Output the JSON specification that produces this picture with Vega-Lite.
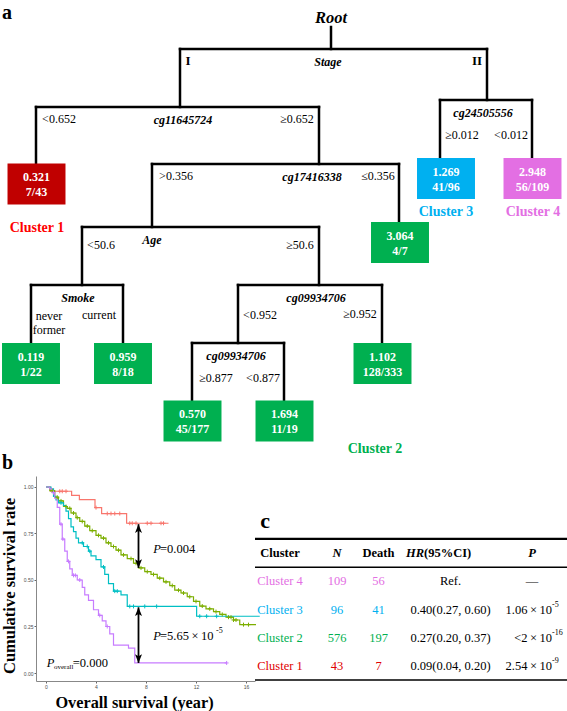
{
"$schema":"https://vega.github.io/schema/vega-lite/v6.json",
"background":"white",
"padding":{"left":0,"top":0,"right":0,"bottom":0},
"spacing":0,
"config":{"view":{"stroke":"transparent"},"font":"Liberation Serif","text":{"font":"Liberation Serif"},"axis":{"grid":false}},
"resolve":{"scale":{"color":"independent"}},
"datasets":{
 "splits":[
  {"var":"Stage","xl":180,"xr":487,"y":48,"yl":106,"yr":99,"lx":328},
  {"var":"cg11645724","xl":36,"xr":319,"y":106,"yl":163,"yr":163,"lx":183},
  {"var":"cg24505556","xl":440,"xr":532,"y":99,"yl":157,"yr":157,"lx":483},
  {"var":"cg17416338","xl":152,"xr":399,"y":163,"yl":226,"yr":221,"lx":312},
  {"var":"Age","xl":82,"xr":319,"y":226,"yl":284,"yr":284,"lx":152},
  {"var":"Smoke","xl":31,"xr":123,"y":284,"yl":342,"yr":342,"lx":78},
  {"var":"cg09934706","xl":238,"xr":382,"y":284,"yl":342,"yr":342,"lx":316},
  {"var":"cg09934706","xl":192,"xr":284,"y":342,"yl":400,"yr":400,"lx":236}
 ],
 "rootNode":[{"label":"Root","x":331,"y":17,"stemTop":26,"stemBottom":48}],
 "stageBranches":[{"text":"I","x":188,"y":60},{"text":"II","x":477,"y":60}],
 "conditions":[
  {"text":"<0.652","x":59,"y":118},
  {"text":"≥0.652","x":297,"y":118},
  {"text":"≥0.012","x":462,"y":134},
  {"text":"<0.012","x":511,"y":134},
  {"text":">0.356","x":176,"y":175},
  {"text":"≤0.356","x":378,"y":175},
  {"text":"<50.6","x":101,"y":244},
  {"text":"≥50.6","x":300,"y":244},
  {"text":["never","former"],"x":49,"y":315},
  {"text":"current","x":99,"y":314},
  {"text":"<0.952","x":260,"y":314},
  {"text":"≥0.952","x":360,"y":313},
  {"text":"≥0.877","x":216,"y":377},
  {"text":"<0.877","x":263,"y":377}
 ],
 "leaves":[
  {"hr":"0.321","frac":"7/43","cluster":"Cluster 1","x":36.5,"y":183},
  {"hr":"1.269","frac":"41/96","cluster":"Cluster 3","x":446,"y":177.5},
  {"hr":"2.948","frac":"56/109","cluster":"Cluster 4","x":532.5,"y":177.5},
  {"hr":"3.064","frac":"4/7","cluster":"Cluster 2","x":400,"y":241.5},
  {"hr":"0.119","frac":"1/22","cluster":"Cluster 2","x":31,"y":362.5},
  {"hr":"0.959","frac":"8/18","cluster":"Cluster 2","x":123,"y":362.5},
  {"hr":"1.102","frac":"128/333","cluster":"Cluster 2","x":382.5,"y":362.5},
  {"hr":"0.570","frac":"45/177","cluster":"Cluster 2","x":192.5,"y":420},
  {"hr":"1.694","frac":"11/19","cluster":"Cluster 2","x":284.5,"y":420}
 ],
 "clusterLabels":[
  {"cluster":"Cluster 1","x":37,"y":227},
  {"cluster":"Cluster 3","x":446,"y":211},
  {"cluster":"Cluster 4","x":533,"y":211},
  {"cluster":"Cluster 2","x":375,"y":448}
 ],
 "panelLabels":[{"label":"a","x":2,"y":18},{"label":"b","x":2,"y":468}],
 "km":[
  {"cluster":"Cluster 1","t":0,"s":1},{"cluster":"Cluster 1","t":0.35,"s":0.977},{"cluster":"Cluster 1","t":2.05,"s":0.955},{"cluster":"Cluster 1","t":2.67,"s":0.932},{"cluster":"Cluster 1","t":3.92,"s":0.889},{"cluster":"Cluster 1","t":4.45,"s":0.857},{"cluster":"Cluster 1","t":6.45,"s":0.805},{"cluster":"Cluster 1","t":9.8,"s":0.805},
  {"cluster":"Cluster 2","t":0,"s":1},{"cluster":"Cluster 2","t":0.3,"s":0.98},{"cluster":"Cluster 2","t":0.7,"s":0.945},{"cluster":"Cluster 2","t":1.0,"s":0.925},{"cluster":"Cluster 2","t":1.4,"s":0.895},{"cluster":"Cluster 2","t":1.7,"s":0.885},{"cluster":"Cluster 2","t":2.0,"s":0.86},{"cluster":"Cluster 2","t":2.4,"s":0.835},{"cluster":"Cluster 2","t":2.7,"s":0.815},{"cluster":"Cluster 2","t":3.1,"s":0.79},{"cluster":"Cluster 2","t":3.5,"s":0.765},{"cluster":"Cluster 2","t":4.0,"s":0.74},{"cluster":"Cluster 2","t":4.4,"s":0.725},{"cluster":"Cluster 2","t":4.8,"s":0.7},{"cluster":"Cluster 2","t":5.2,"s":0.68},{"cluster":"Cluster 2","t":5.6,"s":0.66},{"cluster":"Cluster 2","t":6.0,"s":0.635},{"cluster":"Cluster 2","t":6.5,"s":0.615},{"cluster":"Cluster 2","t":7.0,"s":0.59},{"cluster":"Cluster 2","t":7.4,"s":0.565},{"cluster":"Cluster 2","t":7.9,"s":0.545},{"cluster":"Cluster 2","t":8.4,"s":0.53},{"cluster":"Cluster 2","t":8.9,"s":0.51},{"cluster":"Cluster 2","t":9.4,"s":0.49},{"cluster":"Cluster 2","t":9.9,"s":0.47},{"cluster":"Cluster 2","t":10.3,"s":0.445},{"cluster":"Cluster 2","t":10.8,"s":0.43},{"cluster":"Cluster 2","t":11.3,"s":0.41},{"cluster":"Cluster 2","t":11.8,"s":0.385},{"cluster":"Cluster 2","t":12.3,"s":0.36},{"cluster":"Cluster 2","t":12.8,"s":0.345},{"cluster":"Cluster 2","t":13.4,"s":0.33},{"cluster":"Cluster 2","t":13.9,"s":0.315},{"cluster":"Cluster 2","t":14.4,"s":0.3},{"cluster":"Cluster 2","t":15.0,"s":0.285},{"cluster":"Cluster 2","t":15.5,"s":0.26},{"cluster":"Cluster 2","t":16.8,"s":0.26},
  {"cluster":"Cluster 3","t":0,"s":1},{"cluster":"Cluster 3","t":0.4,"s":0.99},{"cluster":"Cluster 3","t":0.6,"s":0.95},{"cluster":"Cluster 3","t":0.8,"s":0.93},{"cluster":"Cluster 3","t":1.0,"s":0.915},{"cluster":"Cluster 3","t":1.4,"s":0.9},{"cluster":"Cluster 3","t":1.6,"s":0.87},{"cluster":"Cluster 3","t":1.8,"s":0.83},{"cluster":"Cluster 3","t":2.0,"s":0.785},{"cluster":"Cluster 3","t":2.2,"s":0.76},{"cluster":"Cluster 3","t":2.4,"s":0.725},{"cluster":"Cluster 3","t":2.6,"s":0.7},{"cluster":"Cluster 3","t":3.0,"s":0.68},{"cluster":"Cluster 3","t":3.4,"s":0.655},{"cluster":"Cluster 3","t":3.6,"s":0.63},{"cluster":"Cluster 3","t":4.0,"s":0.61},{"cluster":"Cluster 3","t":4.4,"s":0.57},{"cluster":"Cluster 3","t":4.7,"s":0.53},{"cluster":"Cluster 3","t":5.0,"s":0.48},{"cluster":"Cluster 3","t":5.4,"s":0.44},{"cluster":"Cluster 3","t":6.0,"s":0.42},{"cluster":"Cluster 3","t":6.5,"s":0.358},{"cluster":"Cluster 3","t":12.05,"s":0.305},{"cluster":"Cluster 3","t":17.1,"s":0.305},
  {"cluster":"Cluster 4","t":0,"s":1},{"cluster":"Cluster 4","t":0.3,"s":0.99},{"cluster":"Cluster 4","t":0.5,"s":0.97},{"cluster":"Cluster 4","t":0.7,"s":0.94},{"cluster":"Cluster 4","t":0.9,"s":0.89},{"cluster":"Cluster 4","t":1.1,"s":0.8},{"cluster":"Cluster 4","t":1.3,"s":0.72},{"cluster":"Cluster 4","t":1.5,"s":0.655},{"cluster":"Cluster 4","t":1.7,"s":0.6},{"cluster":"Cluster 4","t":1.9,"s":0.56},{"cluster":"Cluster 4","t":2.1,"s":0.525},{"cluster":"Cluster 4","t":2.5,"s":0.5},{"cluster":"Cluster 4","t":2.9,"s":0.46},{"cluster":"Cluster 4","t":3.1,"s":0.42},{"cluster":"Cluster 4","t":3.4,"s":0.39},{"cluster":"Cluster 4","t":3.8,"s":0.34},{"cluster":"Cluster 4","t":4.2,"s":0.31},{"cluster":"Cluster 4","t":4.5,"s":0.28},{"cluster":"Cluster 4","t":4.8,"s":0.25},{"cluster":"Cluster 4","t":5.1,"s":0.21},{"cluster":"Cluster 4","t":5.4,"s":0.15},{"cluster":"Cluster 4","t":6.6,"s":0.134},{"cluster":"Cluster 4","t":7.1,"s":0.054},{"cluster":"Cluster 4","t":14.45,"s":0.054}
 ],
 "censor":[
  {"cluster":"Cluster 1","t":1.1,"s":0.977},{"cluster":"Cluster 1","t":1.3,"s":0.977},{"cluster":"Cluster 1","t":1.6,"s":0.977},{"cluster":"Cluster 1","t":4.0,"s":0.889},{"cluster":"Cluster 1","t":4.9,"s":0.857},{"cluster":"Cluster 1","t":5.2,"s":0.857},{"cluster":"Cluster 1","t":5.5,"s":0.857},{"cluster":"Cluster 1","t":5.9,"s":0.857},{"cluster":"Cluster 1","t":6.7,"s":0.805},{"cluster":"Cluster 1","t":6.9,"s":0.805},{"cluster":"Cluster 1","t":7.2,"s":0.805},{"cluster":"Cluster 1","t":8.1,"s":0.805},{"cluster":"Cluster 1","t":8.4,"s":0.805},{"cluster":"Cluster 1","t":9.2,"s":0.805},{"cluster":"Cluster 1","t":9.4,"s":0.805},
  {"cluster":"Cluster 2","t":0.5,"s":0.98},{"cluster":"Cluster 2","t":0.9,"s":0.945},{"cluster":"Cluster 2","t":1.2,"s":0.925},{"cluster":"Cluster 2","t":1.6,"s":0.895},{"cluster":"Cluster 2","t":1.9,"s":0.885},{"cluster":"Cluster 2","t":2.2,"s":0.86},{"cluster":"Cluster 2","t":2.5,"s":0.835},{"cluster":"Cluster 2","t":2.9,"s":0.815},{"cluster":"Cluster 2","t":3.3,"s":0.79},{"cluster":"Cluster 2","t":3.7,"s":0.765},{"cluster":"Cluster 2","t":4.2,"s":0.74},{"cluster":"Cluster 2","t":4.6,"s":0.725},{"cluster":"Cluster 2","t":5.0,"s":0.7},{"cluster":"Cluster 2","t":5.4,"s":0.68},{"cluster":"Cluster 2","t":5.8,"s":0.66},{"cluster":"Cluster 2","t":6.2,"s":0.635},{"cluster":"Cluster 2","t":6.8,"s":0.615},{"cluster":"Cluster 2","t":7.2,"s":0.59},{"cluster":"Cluster 2","t":7.6,"s":0.565},{"cluster":"Cluster 2","t":8.1,"s":0.545},{"cluster":"Cluster 2","t":8.6,"s":0.53},{"cluster":"Cluster 2","t":9.1,"s":0.51},{"cluster":"Cluster 2","t":9.6,"s":0.49},{"cluster":"Cluster 2","t":10.1,"s":0.47},{"cluster":"Cluster 2","t":10.6,"s":0.445},{"cluster":"Cluster 2","t":11.0,"s":0.43},{"cluster":"Cluster 2","t":11.5,"s":0.41},{"cluster":"Cluster 2","t":12.0,"s":0.385},{"cluster":"Cluster 2","t":12.5,"s":0.36},{"cluster":"Cluster 2","t":13.1,"s":0.345},{"cluster":"Cluster 2","t":13.6,"s":0.33},{"cluster":"Cluster 2","t":14.1,"s":0.315},{"cluster":"Cluster 2","t":14.6,"s":0.3},{"cluster":"Cluster 2","t":14.8,"s":0.3},{"cluster":"Cluster 2","t":15.0,"s":0.285},{"cluster":"Cluster 2","t":15.2,"s":0.285},{"cluster":"Cluster 2","t":15.8,"s":0.26},{"cluster":"Cluster 2","t":16.2,"s":0.26},
  {"cluster":"Cluster 3","t":1.2,"s":0.915},{"cluster":"Cluster 3","t":2.9,"s":0.7},{"cluster":"Cluster 3","t":3.3,"s":0.68},{"cluster":"Cluster 3","t":3.5,"s":0.655},{"cluster":"Cluster 3","t":4.6,"s":0.57},{"cluster":"Cluster 3","t":5.5,"s":0.44},{"cluster":"Cluster 3","t":5.7,"s":0.44},{"cluster":"Cluster 3","t":6.7,"s":0.358},{"cluster":"Cluster 3","t":7.0,"s":0.358},{"cluster":"Cluster 3","t":7.9,"s":0.358},{"cluster":"Cluster 3","t":8.85,"s":0.358},{"cluster":"Cluster 3","t":12.3,"s":0.305},{"cluster":"Cluster 3","t":12.85,"s":0.305},{"cluster":"Cluster 3","t":13.65,"s":0.305},
  {"cluster":"Cluster 4","t":0.6,"s":0.97},{"cluster":"Cluster 4","t":1.2,"s":0.8},{"cluster":"Cluster 4","t":1.35,"s":0.72},{"cluster":"Cluster 4","t":1.8,"s":0.6},{"cluster":"Cluster 4","t":2.2,"s":0.525},{"cluster":"Cluster 4","t":2.35,"s":0.525},{"cluster":"Cluster 4","t":2.7,"s":0.5},{"cluster":"Cluster 4","t":4.3,"s":0.31},{"cluster":"Cluster 4","t":4.9,"s":0.25},{"cluster":"Cluster 4","t":14.45,"s":0.054}
 ],
 "arrows":[{"t":7.4,"top":0.8,"bottom":0.565},{"t":7.4,"top":0.353,"bottom":0.054}],
 "pItalic":[{"t":8.58,"s":0.665,"text":"P"},{"t":8.58,"s":0.2005,"text":"P"},{"t":0.056,"s":0.054,"text":"P"}],
 "pPlain":[{"t":9.12,"s":0.665,"text":"=0.004"},{"t":9.12,"s":0.2005,"text":"=5.65\u2009×\u200910"},{"t":2.14,"s":0.054,"text":"=0.000"}],
 "pSup":[{"t":13.6,"s":0.226,"text":"-5"}],
 "pSub":[{"t":0.64,"s":0.032,"text":"overall"}],
 "tableRules":[{"row":-0.5},{"row":0.5},{"row":4.5}],
 "headerBold":[{"text":"Cluster","x":25,"row":0},{"text":"Death","x":123.5,"row":0}],
 "headerItalic":[{"text":"N","x":82,"row":0},{"text":"P","x":277,"row":0}],
 "headerHR":[{"text":"HR","x":169,"row":0}],
 "headerCI":[{"text":"(95%CI)","x":169,"row":0}],
 "table":[
  {"cluster":"Cluster 4","row":1,"N":109,"Death":56,"HR":"Ref.","P":"—","exp":""},
  {"cluster":"Cluster 3","row":2,"N":96,"Death":41,"HR":"0.40(0.27, 0.60)","P":"1.06\u2009×\u200910","exp":"-5"},
  {"cluster":"Cluster 2","row":3,"N":576,"Death":197,"HR":"0.27(0.20, 0.37)","P":"<2\u2009×\u200910","exp":"-16"},
  {"cluster":"Cluster 1","row":4,"N":43,"Death":7,"HR":"0.09(0.04, 0.20)","P":"2.54\u2009×\u200910","exp":"-9"}
 ],
 "panelLabelC":[{"label":"c","x":10,"row":-1.12}]
},
"vconcat":[
 {
  "width":531,"height":473,
  "resolve":{"scale":{"color":"independent"}},
  "layer":[
   {"data":{"name":"rootNode"},"mark":{"type":"rule","strokeWidth":2.5,"color":"black","strokeCap":"square"},
    "encoding":{"x":{"field":"x","type":"quantitative","scale":{"domain":[36,567],"nice":false,"zero":false},"axis":null},
     "y":{"field":"stemTop","type":"quantitative","scale":{"domain":[0,473],"nice":false,"zero":false,"reverse":true},"axis":null},
     "y2":{"field":"stemBottom"}}},
   {"data":{"name":"splits"},"mark":{"type":"rule","strokeWidth":2.5,"color":"black","strokeCap":"square"},
    "encoding":{"x":{"field":"xl","type":"quantitative","scale":{"domain":[36,567],"nice":false,"zero":false},"axis":null},
     "x2":{"field":"xr"},
     "y":{"field":"y","type":"quantitative","scale":{"domain":[0,473],"nice":false,"zero":false,"reverse":true},"axis":null}}},
   {"data":{"name":"splits"},"mark":{"type":"rule","strokeWidth":2.5,"color":"black","strokeCap":"square"},
    "encoding":{"x":{"field":"xl","type":"quantitative","scale":{"domain":[36,567],"nice":false,"zero":false},"axis":null},
     "y":{"field":"y","type":"quantitative","scale":{"domain":[0,473],"nice":false,"zero":false,"reverse":true},"axis":null},
     "y2":{"field":"yl"}}},
   {"data":{"name":"splits"},"mark":{"type":"rule","strokeWidth":2.5,"color":"black","strokeCap":"square"},
    "encoding":{"x":{"field":"xr","type":"quantitative","scale":{"domain":[36,567],"nice":false,"zero":false},"axis":null},
     "y":{"field":"y","type":"quantitative","scale":{"domain":[0,473],"nice":false,"zero":false,"reverse":true},"axis":null},
     "y2":{"field":"yr"}}},
   {"data":{"name":"splits"},"mark":{"type":"text","font":"Liberation Serif","fontSize":12,"fontWeight":"bold","fontStyle":"italic","baseline":"middle","align":"center","dy":12.5,"color":"black"},
    "encoding":{"x":{"field":"lx","type":"quantitative","scale":{"domain":[36,567],"nice":false,"zero":false},"axis":null},
     "y":{"field":"y","type":"quantitative","scale":{"domain":[0,473],"nice":false,"zero":false,"reverse":true},"axis":null},
     "text":{"field":"var"}}},
   {"data":{"name":"rootNode"},"mark":{"type":"text","font":"Liberation Serif","fontSize":16.5,"fontWeight":"bold","fontStyle":"italic","baseline":"middle","align":"center","color":"black"},
    "encoding":{"x":{"field":"x","type":"quantitative","scale":{"domain":[36,567],"nice":false,"zero":false},"axis":null},
     "y":{"field":"y","type":"quantitative","scale":{"domain":[0,473],"nice":false,"zero":false,"reverse":true},"axis":null},
     "text":{"field":"label"}}},
   {"data":{"name":"stageBranches"},"mark":{"type":"text","font":"Liberation Serif","fontSize":13,"fontWeight":"bold","baseline":"middle","align":"center","color":"black"},
    "encoding":{"x":{"field":"x","type":"quantitative","scale":{"domain":[36,567],"nice":false,"zero":false},"axis":null},
     "y":{"field":"y","type":"quantitative","scale":{"domain":[0,473],"nice":false,"zero":false,"reverse":true},"axis":null},
     "text":{"field":"text"}}},
   {"data":{"name":"conditions"},"mark":{"type":"text","font":"Liberation Serif","fontSize":12,"baseline":"middle","align":"center","lineHeight":14,"color":"black"},
    "encoding":{"x":{"field":"x","type":"quantitative","scale":{"domain":[36,567],"nice":false,"zero":false},"axis":null},
     "y":{"field":"y","type":"quantitative","scale":{"domain":[0,473],"nice":false,"zero":false,"reverse":true},"axis":null},
     "text":{"field":"text"}}},
   {"data":{"name":"leaves"},"mark":{"type":"point","shape":"M-1.414,-1L1.414,-1L1.414,1L-1.414,1Z","size":1681,"filled":true,"opacity":1,"strokeWidth":0},
    "encoding":{"x":{"field":"x","type":"quantitative","scale":{"domain":[36,567],"nice":false,"zero":false},"axis":null},
     "y":{"field":"y","type":"quantitative","scale":{"domain":[0,473],"nice":false,"zero":false,"reverse":true},"axis":null},
     "color":{"field":"cluster","type":"nominal","scale":{"domain":["Cluster 1","Cluster 2","Cluster 3","Cluster 4"],"range":["#c00000","#00b050","#00b0f0","#e36fe3"]},"legend":null}}},
   {"data":{"name":"leaves"},"mark":{"type":"text","font":"Liberation Serif","fontSize":12,"fontWeight":"bold","baseline":"middle","align":"center","dy":-7,"color":"white"},
    "encoding":{"x":{"field":"x","type":"quantitative","scale":{"domain":[36,567],"nice":false,"zero":false},"axis":null},
     "y":{"field":"y","type":"quantitative","scale":{"domain":[0,473],"nice":false,"zero":false,"reverse":true},"axis":null},
     "text":{"field":"hr"}}},
   {"data":{"name":"leaves"},"mark":{"type":"text","font":"Liberation Serif","fontSize":12,"fontWeight":"bold","baseline":"middle","align":"center","dy":8,"color":"white"},
    "encoding":{"x":{"field":"x","type":"quantitative","scale":{"domain":[36,567],"nice":false,"zero":false},"axis":null},
     "y":{"field":"y","type":"quantitative","scale":{"domain":[0,473],"nice":false,"zero":false,"reverse":true},"axis":null},
     "text":{"field":"frac"}}},
   {"data":{"name":"clusterLabels"},"mark":{"type":"text","font":"Liberation Serif","fontSize":14,"fontWeight":"bold","baseline":"middle","align":"center"},
    "encoding":{"x":{"field":"x","type":"quantitative","scale":{"domain":[36,567],"nice":false,"zero":false},"axis":null},
     "y":{"field":"y","type":"quantitative","scale":{"domain":[0,473],"nice":false,"zero":false,"reverse":true},"axis":null},
     "text":{"field":"cluster"},
     "color":{"field":"cluster","type":"nominal","scale":{"domain":["Cluster 1","Cluster 2","Cluster 3","Cluster 4"],"range":["#ff0000","#00b050","#00b0f0","#e36fe3"]},"legend":null}}},
   {"data":{"name":"panelLabels"},"mark":{"type":"text","font":"Liberation Serif","fontSize":20,"fontWeight":"bold","baseline":"alphabetic","align":"left","color":"black"},
    "encoding":{"x":{"field":"x","type":"quantitative","scale":{"domain":[36,567],"nice":false,"zero":false},"axis":null},
     "y":{"field":"y","type":"quantitative","scale":{"domain":[0,473],"nice":false,"zero":false,"reverse":true},"axis":null},
     "text":{"field":"label"}}}
  ]
 },
 {
  "hconcat":[
   {
    "width":219,"height":205,
    "layer":[
     {"data":{"name":"km"},"mark":{"type":"line","interpolate":"step-after","strokeWidth":1.2},
      "encoding":{
       "x":{"field":"t","type":"quantitative","scale":{"domain":[-0.8,16.72],"nice":false,"zero":false},
        "axis":{"values":[0,4,8,12,16],"format":"d","title":"Overall survival (year)","titleFont":"Liberation Serif","titleFontSize":16.3,"titleFontWeight":"bold","titleColor":"black","titleX":98,"titleY":13.4,"titleBaseline":"top","titleAlign":"center","labelFont":"Liberation Sans","labelFontSize":5,"labelColor":"#4d4d4d","labelPadding":1,"tickSize":2,"tickColor":"#666","domainColor":"#888","grid":false}},
       "y":{"field":"s","type":"quantitative","scale":{"domain":[-0.043,1.059],"nice":false,"zero":false},
        "axis":{"values":[0,0.25,0.5,0.75,1],"format":".2f","title":"Cumulative survival rate","titleFont":"Liberation Serif","titleFontSize":16.5,"titleFontWeight":"bold","titleColor":"black","titleAngle":270,"titleX":-19,"titleY":109.5,"titleBaseline":"bottom","titleAlign":"center","minExtent":14,"maxExtent":14,"titlePadding":5,"labelFont":"Liberation Sans","labelFontSize":5,"labelColor":"#4d4d4d","labelPadding":1,"tickSize":2,"tickColor":"#666","domainColor":"#888","grid":false}},
       "color":{"field":"cluster","type":"nominal","scale":{"domain":["Cluster 1","Cluster 2","Cluster 3","Cluster 4"],"range":["#F8766D","#7CAE00","#00BFC4","#C77CFF"]},"legend":null},
       "detail":{"field":"cluster"}}},
     {"data":{"name":"censor"},"mark":{"type":"point","shape":"M-1,0L1,0M0,-1L0,1","size":16,"filled":false,"strokeWidth":1,"opacity":1},
      "encoding":{
       "x":{"field":"t","type":"quantitative","scale":{"domain":[-0.8,16.72],"nice":false,"zero":false}},
       "y":{"field":"s","type":"quantitative","scale":{"domain":[-0.043,1.059],"nice":false,"zero":false}},
       "color":{"field":"cluster","type":"nominal","scale":{"domain":["Cluster 1","Cluster 2","Cluster 3","Cluster 4"],"range":["#F8766D","#7CAE00","#00BFC4","#C77CFF"]},"legend":null}}},
     {"data":{"name":"arrows"},"mark":{"type":"rule","strokeWidth":1.8,"color":"black"},
      "encoding":{
       "x":{"field":"t","type":"quantitative","scale":{"domain":[-0.8,16.72],"nice":false,"zero":false}},
       "y":{"field":"top","type":"quantitative","scale":{"domain":[-0.043,1.059],"nice":false,"zero":false}},
       "y2":{"field":"bottom"}}},
     {"data":{"name":"arrows"},"mark":{"type":"point","shape":"M0,0L-1,2.5L0,1.9L1,2.5Z","size":49,"filled":true,"opacity":1,"color":"black"},
      "encoding":{
       "x":{"field":"t","type":"quantitative","scale":{"domain":[-0.8,16.72],"nice":false,"zero":false}},
       "y":{"field":"top","type":"quantitative","scale":{"domain":[-0.043,1.059],"nice":false,"zero":false}}}},
     {"data":{"name":"arrows"},"mark":{"type":"point","shape":"M0,0L-1,-2.5L0,-1.9L1,-2.5Z","size":49,"filled":true,"opacity":1,"color":"black"},
      "encoding":{
       "x":{"field":"t","type":"quantitative","scale":{"domain":[-0.8,16.72],"nice":false,"zero":false}},
       "y":{"field":"bottom","type":"quantitative","scale":{"domain":[-0.043,1.059],"nice":false,"zero":false}}}},
     {"data":{"name":"pItalic"},"mark":{"type":"text","font":"Liberation Serif","fontSize":12.5,"fontStyle":"italic","align":"left","baseline":"middle","color":"black"},
      "encoding":{
       "x":{"field":"t","type":"quantitative","scale":{"domain":[-0.8,16.72],"nice":false,"zero":false}},
       "y":{"field":"s","type":"quantitative","scale":{"domain":[-0.043,1.059],"nice":false,"zero":false}},
       "text":{"field":"text"}}},
     {"data":{"name":"pPlain"},"mark":{"type":"text","font":"Liberation Serif","fontSize":12.5,"align":"left","baseline":"middle","color":"black"},
      "encoding":{
       "x":{"field":"t","type":"quantitative","scale":{"domain":[-0.8,16.72],"nice":false,"zero":false}},
       "y":{"field":"s","type":"quantitative","scale":{"domain":[-0.043,1.059],"nice":false,"zero":false}},
       "text":{"field":"text"}}},
     {"data":{"name":"pSup"},"mark":{"type":"text","font":"Liberation Serif","fontSize":8,"align":"left","baseline":"middle","color":"black"},
      "encoding":{
       "x":{"field":"t","type":"quantitative","scale":{"domain":[-0.8,16.72],"nice":false,"zero":false}},
       "y":{"field":"s","type":"quantitative","scale":{"domain":[-0.043,1.059],"nice":false,"zero":false}},
       "text":{"field":"text"}}},
     {"data":{"name":"pSub"},"mark":{"type":"text","font":"Liberation Serif","fontSize":7,"align":"left","baseline":"middle","color":"black"},
      "encoding":{
       "x":{"field":"t","type":"quantitative","scale":{"domain":[-0.8,16.72],"nice":false,"zero":false}},
       "y":{"field":"s","type":"quantitative","scale":{"domain":[-0.043,1.059],"nice":false,"zero":false}},
       "text":{"field":"text"}}}
    ]
   },
   {
    "width":312,"height":205,
    "layer":[
     {"data":{"name":"tableRules"},"mark":{"type":"rule","color":"black"},
      "encoding":{
       "y":{"field":"row","type":"quantitative","scale":{"domain":[-2.726,4.531],"nice":false,"zero":false,"reverse":true},"axis":null},
       "strokeWidth":{"condition":{"test":"datum.row < 0","value":2.2},"value":1.5}}},
     {"data":{"name":"headerBold"},"mark":{"type":"text","font":"Liberation Serif","fontSize":12.5,"fontWeight":"bold","align":"center","baseline":"middle","color":"black"},
      "encoding":{
       "x":{"field":"x","type":"quantitative","scale":{"domain":[0,312],"nice":false,"zero":false},"axis":null},
       "y":{"field":"row","type":"quantitative","scale":{"domain":[-2.726,4.531],"nice":false,"zero":false,"reverse":true},"axis":null},
       "text":{"field":"text"}}},
     {"data":{"name":"headerItalic"},"mark":{"type":"text","font":"Liberation Serif","fontSize":12.5,"fontWeight":"bold","fontStyle":"italic","align":"center","baseline":"middle","color":"black"},
      "encoding":{
       "x":{"field":"x","type":"quantitative","scale":{"domain":[0,312],"nice":false,"zero":false},"axis":null},
       "y":{"field":"row","type":"quantitative","scale":{"domain":[-2.726,4.531],"nice":false,"zero":false,"reverse":true},"axis":null},
       "text":{"field":"text"}}},
     {"data":{"name":"headerHR"},"mark":{"type":"text","font":"Liberation Serif","fontSize":12.5,"fontWeight":"bold","fontStyle":"italic","align":"right","baseline":"middle","color":"black"},
      "encoding":{
       "x":{"field":"x","type":"quantitative","scale":{"domain":[0,312],"nice":false,"zero":false},"axis":null},
       "y":{"field":"row","type":"quantitative","scale":{"domain":[-2.726,4.531],"nice":false,"zero":false,"reverse":true},"axis":null},
       "text":{"field":"text"}}},
     {"data":{"name":"headerCI"},"mark":{"type":"text","font":"Liberation Serif","fontSize":12.5,"fontWeight":"bold","align":"left","baseline":"middle","color":"black"},
      "encoding":{
       "x":{"field":"x","type":"quantitative","scale":{"domain":[0,312],"nice":false,"zero":false},"axis":null},
       "y":{"field":"row","type":"quantitative","scale":{"domain":[-2.726,4.531],"nice":false,"zero":false,"reverse":true},"axis":null},
       "text":{"field":"text"}}},
     {"data":{"name":"table"},"mark":{"type":"text","font":"Liberation Serif","fontSize":12.5,"align":"center","baseline":"middle"},
      "encoding":{
       "x":{"datum":25,"type":"quantitative","scale":{"domain":[0,312],"nice":false,"zero":false},"axis":null},
       "y":{"field":"row","type":"quantitative","scale":{"domain":[-2.726,4.531],"nice":false,"zero":false,"reverse":true},"axis":null},
       "text":{"field":"cluster"},
       "color":{"field":"cluster","type":"nominal","scale":{"domain":["Cluster 1","Cluster 2","Cluster 3","Cluster 4"],"range":["#e00000","#00b050","#00b0f0","#e36fe3"]},"legend":null}}},
     {"data":{"name":"table"},"mark":{"type":"text","font":"Liberation Serif","fontSize":12.5,"align":"center","baseline":"middle"},
      "encoding":{
       "x":{"datum":82,"type":"quantitative","scale":{"domain":[0,312],"nice":false,"zero":false},"axis":null},
       "y":{"field":"row","type":"quantitative","scale":{"domain":[-2.726,4.531],"nice":false,"zero":false,"reverse":true},"axis":null},
       "text":{"field":"N"},
       "color":{"field":"cluster","type":"nominal","scale":{"domain":["Cluster 1","Cluster 2","Cluster 3","Cluster 4"],"range":["#e00000","#00b050","#00b0f0","#e36fe3"]},"legend":null}}},
     {"data":{"name":"table"},"mark":{"type":"text","font":"Liberation Serif","fontSize":12.5,"align":"center","baseline":"middle"},
      "encoding":{
       "x":{"datum":123.5,"type":"quantitative","scale":{"domain":[0,312],"nice":false,"zero":false},"axis":null},
       "y":{"field":"row","type":"quantitative","scale":{"domain":[-2.726,4.531],"nice":false,"zero":false,"reverse":true},"axis":null},
       "text":{"field":"Death"},
       "color":{"field":"cluster","type":"nominal","scale":{"domain":["Cluster 1","Cluster 2","Cluster 3","Cluster 4"],"range":["#e00000","#00b050","#00b0f0","#e36fe3"]},"legend":null}}},
     {"data":{"name":"table"},"mark":{"type":"text","font":"Liberation Serif","fontSize":12.5,"align":"center","baseline":"middle","color":"black"},
      "encoding":{
       "x":{"datum":195.5,"type":"quantitative","scale":{"domain":[0,312],"nice":false,"zero":false},"axis":null},
       "y":{"field":"row","type":"quantitative","scale":{"domain":[-2.726,4.531],"nice":false,"zero":false,"reverse":true},"axis":null},
       "text":{"field":"HR"}}},
     {"data":{"name":"table"},"transform":[{"filter":"datum.exp != ''"}],"mark":{"type":"text","font":"Liberation Serif","fontSize":12.5,"align":"right","baseline":"middle","color":"black"},
      "encoding":{
       "x":{"datum":297,"type":"quantitative","scale":{"domain":[0,312],"nice":false,"zero":false},"axis":null},
       "y":{"field":"row","type":"quantitative","scale":{"domain":[-2.726,4.531],"nice":false,"zero":false,"reverse":true},"axis":null},
       "text":{"field":"P"}}},
     {"data":{"name":"table"},"transform":[{"filter":"datum.exp != ''"}],"mark":{"type":"text","font":"Liberation Serif","fontSize":8,"align":"left","baseline":"middle","dy":-5,"color":"black"},
      "encoding":{
       "x":{"datum":297,"type":"quantitative","scale":{"domain":[0,312],"nice":false,"zero":false},"axis":null},
       "y":{"field":"row","type":"quantitative","scale":{"domain":[-2.726,4.531],"nice":false,"zero":false,"reverse":true},"axis":null},
       "text":{"field":"exp"}}},
     {"data":{"name":"table"},"transform":[{"filter":"datum.exp == ''"}],"mark":{"type":"text","font":"Liberation Serif","fontSize":12.5,"align":"center","baseline":"middle","color":"black"},
      "encoding":{
       "x":{"datum":277,"type":"quantitative","scale":{"domain":[0,312],"nice":false,"zero":false},"axis":null},
       "y":{"field":"row","type":"quantitative","scale":{"domain":[-2.726,4.531],"nice":false,"zero":false,"reverse":true},"axis":null},
       "text":{"field":"P"}}},
     {"data":{"name":"panelLabelC"},"mark":{"type":"text","font":"Liberation Serif","fontSize":22,"fontWeight":"bold","align":"center","baseline":"middle","color":"black"},
      "encoding":{
       "x":{"field":"x","type":"quantitative","scale":{"domain":[0,312],"nice":false,"zero":false},"axis":null},
       "y":{"field":"row","type":"quantitative","scale":{"domain":[-2.726,4.531],"nice":false,"zero":false,"reverse":true},"axis":null},
       "text":{"field":"label"}}}
    ]
   }
  ],
  "spacing":0,
  "bounds":"flush",
  "resolve":{"scale":{"color":"independent"}}
 }
]
}
